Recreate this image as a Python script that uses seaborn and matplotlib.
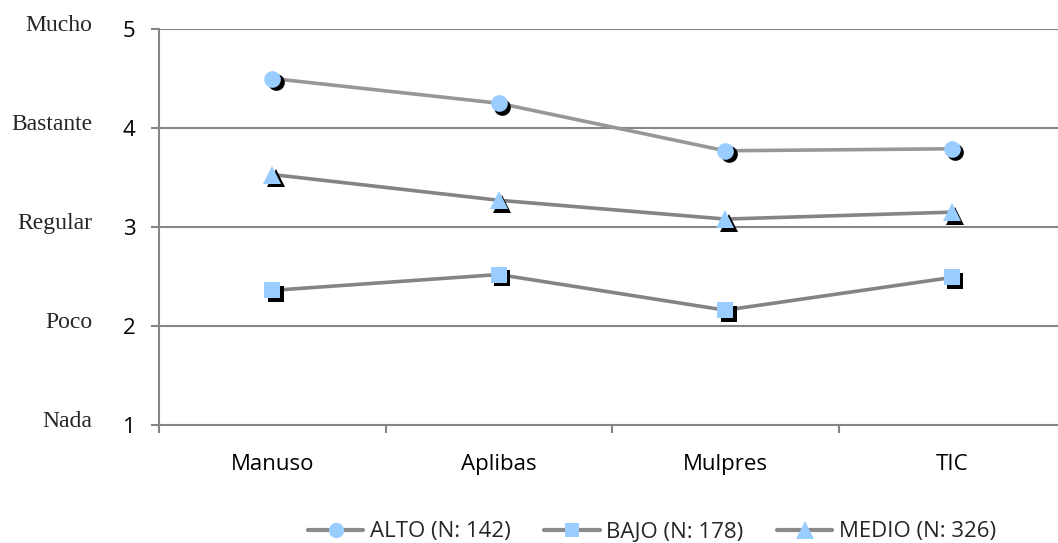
import numpy as np
import pandas as pd
import matplotlib
matplotlib.use("Agg")
import matplotlib.pyplot as plt
import matplotlib.transforms as mtransforms
from matplotlib.lines import Line2D
import seaborn as sns

categories = ["Manuso", "Aplibas", "Mulpres", "TIC"]
alto = [4.50, 4.25, 3.77, 3.79]
medio = [3.53, 3.27, 3.08, 3.15]
bajo = [2.36, 2.52, 2.16, 2.49]
series_names = ["ALTO (N: 142)", "BAJO (N: 178)", "MEDIO (N: 326)"]
scale_labels = ["Nada", "Poco", "Regular", "Bastante", "Mucho"]
scale_values = [1, 2, 3, 4, 5]

sns.set_theme(style="white")
plt.rcParams["font.family"] = ["Open Sans", "DejaVu Sans"]

W, H = 1058, 543
fig = plt.figure(figsize=(W / 100, H / 100), dpi=100)
ax = fig.add_axes([159 / W, (H - 425) / H, 906 / W, 396 / H])

df = pd.DataFrame({
    "cat": categories * 3,
    "x": list(range(4)) * 3,
    "y": alto + bajo + medio,
    "grupo": [series_names[0]] * 4 + [series_names[1]] * 4 + [series_names[2]] * 4,
})

line_colors = {series_names[0]: "#979797", series_names[1]: "#848484", series_names[2]: "#848484"}
markers = {series_names[0]: "o", series_names[1]: "s", series_names[2]: "^"}
msizes = {series_names[0]: 12, series_names[1]: 11.5, series_names[2]: 13}
fill = "#99CCFF"

sns.lineplot(data=df, x="x", y="y", hue="grupo", palette=line_colors,
             linewidth=2.6, legend=False, ax=ax, zorder=2)

# drop shadow under each marker, offset down-right
shadow = mtransforms.offset_copy(ax.transData, fig=fig, x=2.5, y=-2.5, units="points")
for name in series_names:
    sub = df[df["grupo"] == name]
    ax.plot(sub["x"], sub["y"], linestyle="none", marker=markers[name],
            markersize=msizes[name], color="black", markeredgewidth=0,
            transform=shadow, zorder=3)
    ax.plot(sub["x"], sub["y"], linestyle="none", marker=markers[name],
            markersize=msizes[name], color=fill, markeredgewidth=0, zorder=4)

ax.set_xlim(-0.5, 3.5)
ax.set_ylim(1, 5)
ax.set_xlabel("")
ax.set_ylabel("")

grid_c = "#868686"
for v in scale_values[1:]:
    ax.axhline(v, color=grid_c, linewidth=1.5, zorder=1)
for s in ["top", "right"]:
    ax.spines[s].set_visible(False)
for s in ["left", "bottom"]:
    ax.spines[s].set_color(grid_c)
    ax.spines[s].set_linewidth(1.5)

ax.set_yticks(scale_values)
ax.set_yticklabels([str(v) for v in scale_values], fontsize=16, color="black")
ax.tick_params(axis="y", which="major", left=True, length=6, width=1.5,
               color=grid_c, pad=11)

ax.set_xticks(np.arange(-0.5, 4, 1.0))
ax.set_xticklabels([])
ax.tick_params(axis="x", which="major", bottom=True, length=6, width=1.5,
               color=grid_c, direction="out")
ax.set_xticks(range(4), minor=True)
ax.set_xticklabels(categories, minor=True, fontsize=16, color="black")
ax.tick_params(axis="x", which="minor", length=0, pad=21)

ylab_tr = mtransforms.blended_transform_factory(fig.transFigure, ax.transData)
for v, lab in zip(scale_values, scale_labels):
    ax.text(92 / W, v + 0.04, lab, transform=ylab_tr, ha="right", va="center",
            fontsize=17, family=["Liberation Serif", "DejaVu Serif"], color="#262626")

leg_sizes = [11, 10.5, 12.5]
handles = [Line2D([], [], color="#8a8a8a", linewidth=3, marker=markers[n],
                  markersize=s, markerfacecolor=fill,
                  markeredgewidth=0) for n, s in zip(series_names, leg_sizes)]
fig.legend(handles, series_names, loc="center", bbox_to_anchor=(652 / W, 1 - 532 / H),
           ncol=3, frameon=False, handlelength=2.5,
           columnspacing=1.5, handletextpad=0.3, borderpad=0,
           prop={"family": ["Open Sans", "DejaVu Sans"], "size": 16})

fig.savefig("out.png", dpi=100)
